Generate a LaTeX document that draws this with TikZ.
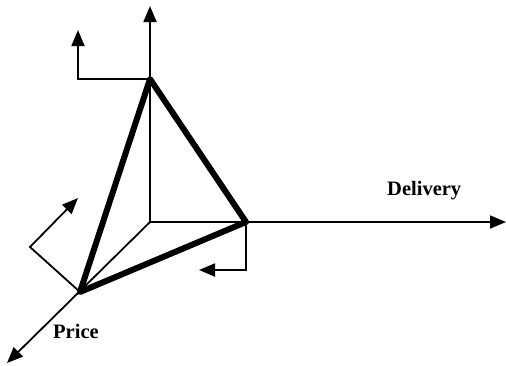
\documentclass[tikz,border=0pt]{standalone}
\usepackage{fontspec}
\setmainfont{Liberation Serif}
\usetikzlibrary{arrows.meta}
\begin{document}
\begin{tikzpicture}[x=1pt,y=-1pt,
  axis/.style={line width=1.8pt,-{Triangle[length=16pt,width=13pt]}},
  edge/.style={line width=6pt,line cap=round,line join=round},
  lbl/.style={inner sep=0pt,anchor=base west,font=\fontsize{20.5}{24}\selectfont\bfseries}]
\useasboundingbox (0,0) rectangle (506,365);
\coordinate (O) at (150,222);
\coordinate (T) at (150,79);
\coordinate (R) at (246,222);
\coordinate (P) at (80,292);
\coordinate (Ytip) at (150,6);
\coordinate (Xtip) at (506,222);
\coordinate (Ztip) at (7,363);
\coordinate (a1) at (78,79);
\coordinate (a1tip) at (78,30);
\coordinate (b1) at (246,270);
\coordinate (b1tip) at (199,270);
\coordinate (c1) at (30,247);
\coordinate (c1tip) at (78,198);
% axes
\draw[axis] (O) -- (Ytip);
\draw[axis] (O) -- (Xtip);
\draw[axis] (O) -- (Ztip);
% small rotation arrows
\draw[axis,line join=miter] (T) -- (a1) -- (a1tip);
\draw[axis,line join=miter] (R) -- (b1) -- (b1tip);
\draw[axis,line join=miter] (P) -- (c1) -- (c1tip);
% triangle
\draw[edge] (T) -- (R) -- (P) -- cycle;
% labels
\node[lbl] (delivery) at (387,195) {Delivery};
\node[lbl] (price) at (53,338) {Price};
\end{tikzpicture}
\end{document}
